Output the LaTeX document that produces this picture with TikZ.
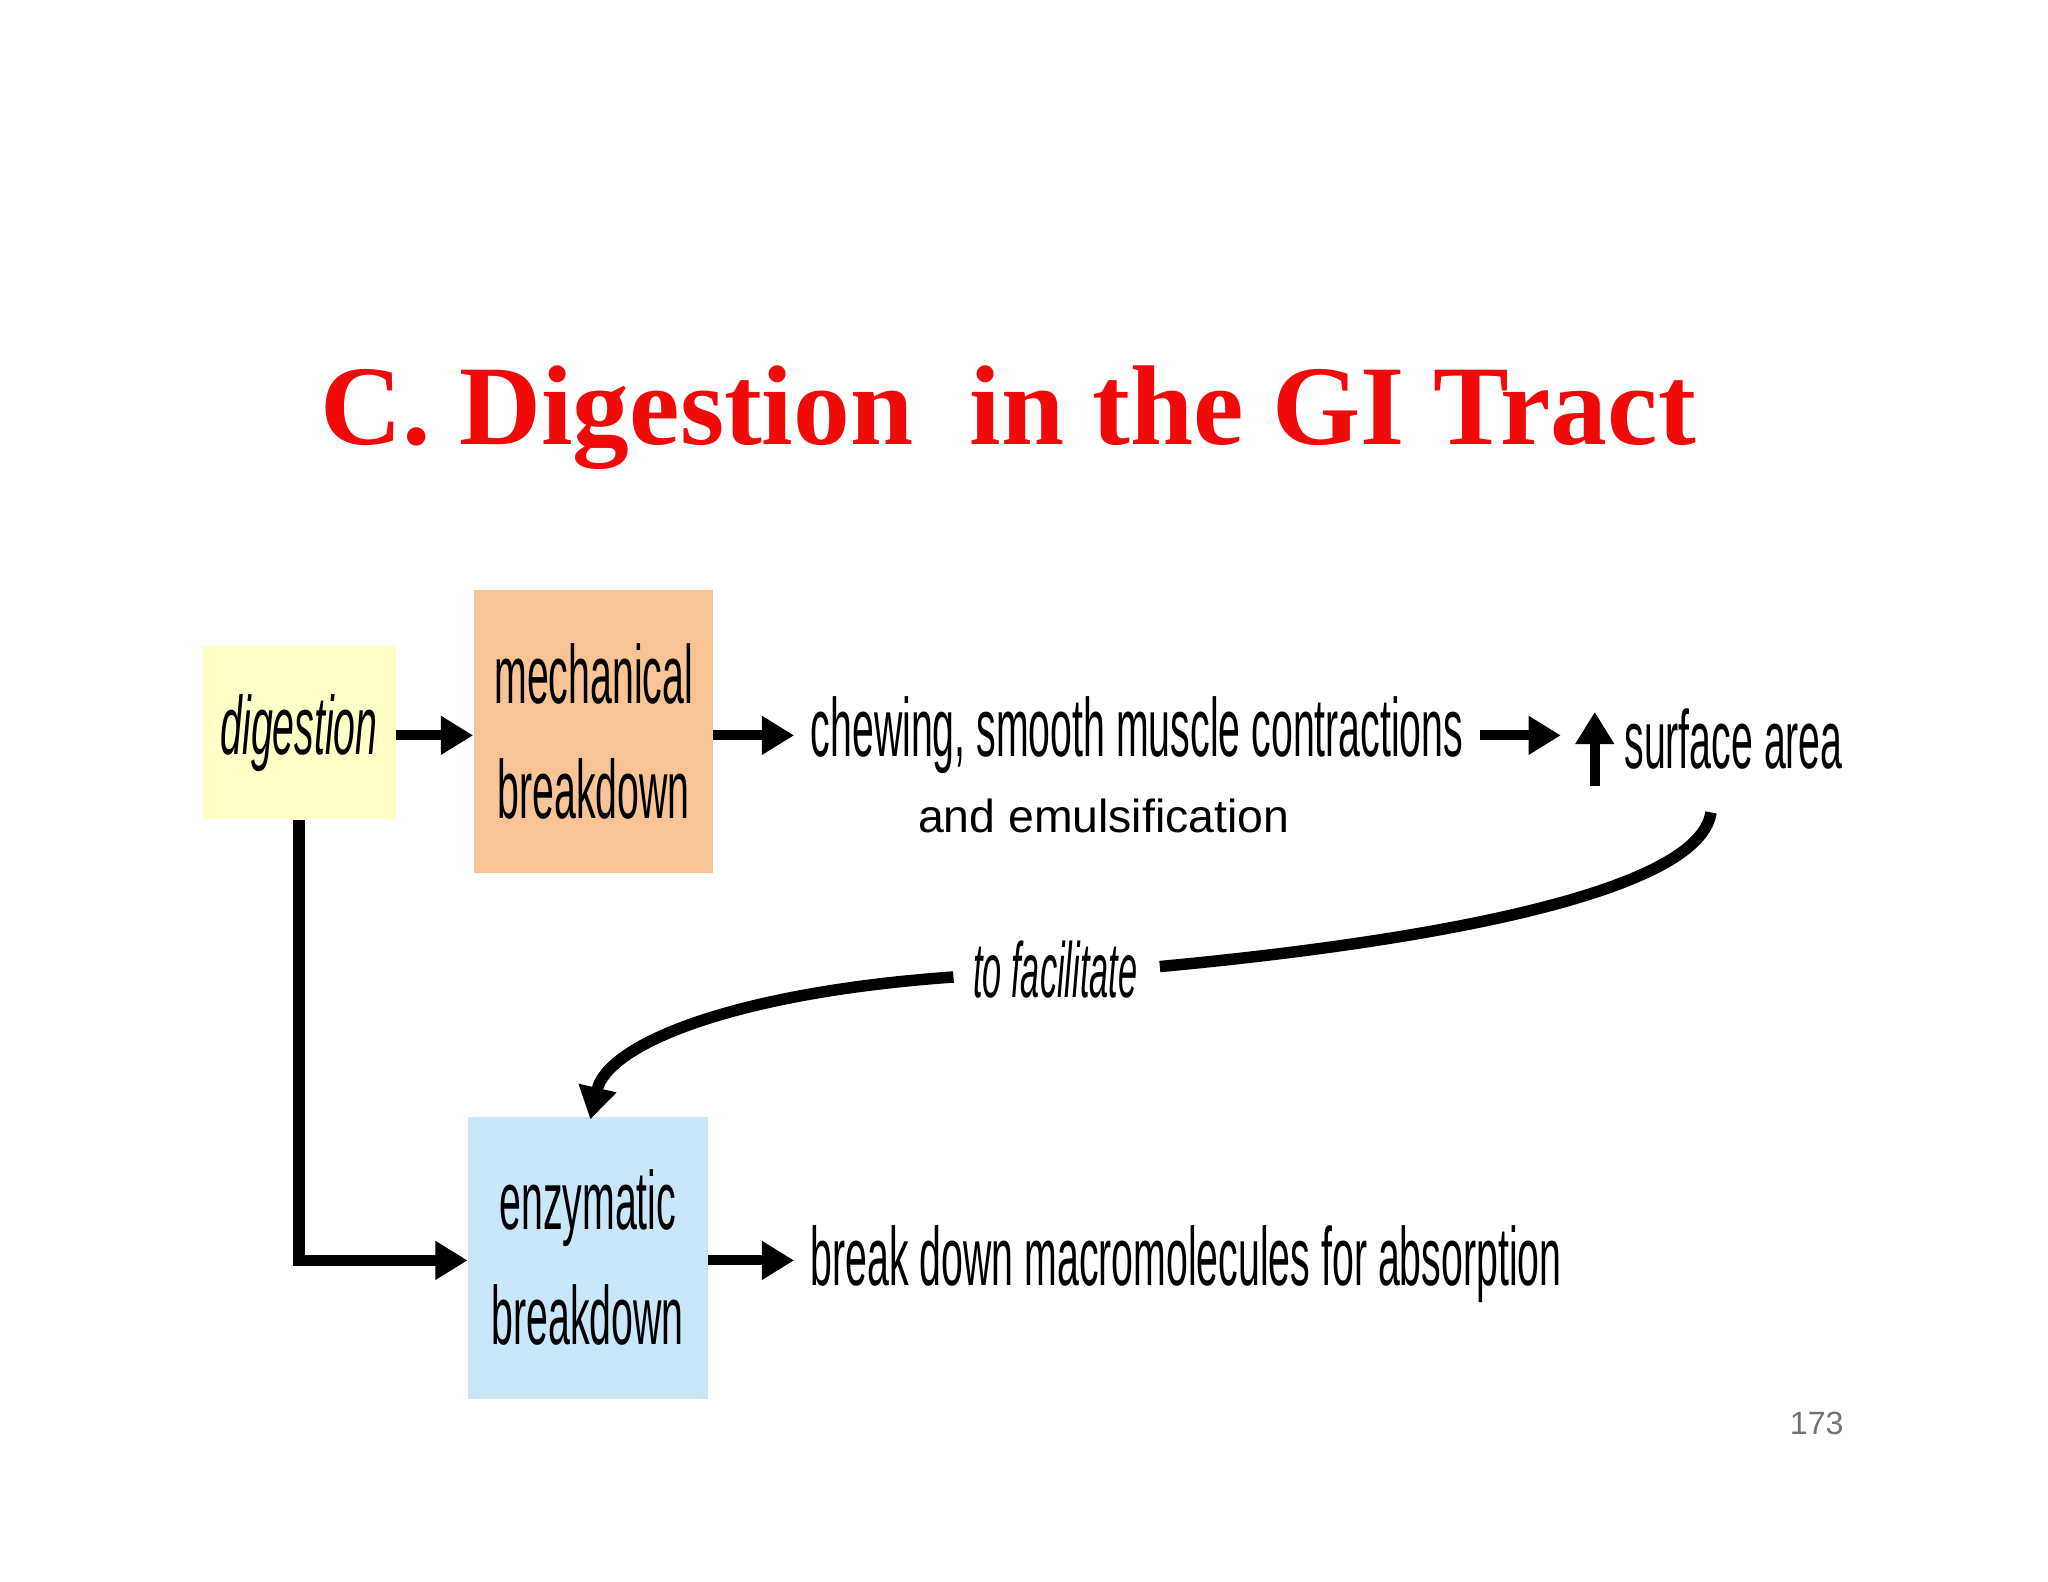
\documentclass[tikz,border=0pt]{standalone}
\usepackage{fontspec}
\setmainfont{Liberation Serif}
\newfontfamily\narrow[FakeStretch=0.475]{Liberation Sans}
\newfontfamily\facfont[FakeStretch=0.44]{Liberation Sans}
\newfontfamily\arial{Liberation Sans}
\usetikzlibrary{arrows.meta}
\definecolor{titlered}{RGB}{240,10,10}
\definecolor{yel}{RGB}{255,255,200}
\definecolor{ora}{RGB}{248,196,150}
\definecolor{blu}{RGB}{200,232,250}
\tikzset{
  box/.style={draw=none,inner sep=0pt,align=center,font=\narrow\fontsize{18}{25}\selectfont},
  lbl/.style={inner sep=0pt,anchor=west,font=\narrow\fontsize{18}{22}\selectfont},
  arr/.style={line width=2.2pt,-{Triangle[length=7pt,width=8pt]}},
}
\begin{document}
\begin{tikzpicture}[x=0.01cm,y=-0.01cm]
\useasboundingbox (0,0) rectangle (1568,1211);
\node[font=\bfseries\fontsize{24.7}{28}\selectfont,text=titlered] (title) at (772,320) {C. Digestion\ \ in the GI Tract};
\node[box,fill=yel,minimum width=1.48cm,minimum height=1.32cm,font=\narrow\itshape\fontsize{18}{22}\selectfont] (dig) at (229,561) {digestion};
\node[box,fill=ora,minimum width=1.83cm,minimum height=2.16cm] (mech) at (454.5,560) {mechanical\\breakdown};
\node[box,fill=blu,minimum width=1.84cm,minimum height=2.16cm] (enz) at (450,963) {enzymatic\\breakdown};
\node[lbl] (chew) at (620,563) {chewing, smooth muscle contractions};
\node[lbl] (surf) at (1243,566) {surface area};
\coordinate (upb) at (1221,602);
\coordinate (upt) at (1221,545);
\node[inner sep=0pt,font=\arial\fontsize{10.1}{12}\selectfont] (emul) at (845,625) {and emulsification};
\node[lbl,anchor=center,font=\facfont\itshape\fontsize{17}{20}\selectfont] (fac) at (808,742) {to facilitate};
\node[lbl] (brk) at (620,968) {break down macromolecules for absorption};
\node[inner sep=0pt,text=black!55,font=\arial\fontsize{7}{8}\selectfont] (pg) at (1391,1090) {173};
\coordinate (a1s) at (303,563);
\coordinate (a2s) at (546,563);
\coordinate (a2e) at (608,563);
\coordinate (a3s) at (1133,563);
\coordinate (a3e) at (1195,563);
\coordinate (cs) at (1310,622);
\coordinate (ce) at (888,740);
\coordinate (c2s) at (730,748);
\coordinate (ct) at (452,857);
\coordinate (corner) at (229,965);
\coordinate (e1) at (358,965);
\coordinate (e2s) at (542,965);
\coordinate (e2e) at (608,965);
\draw[arr] (a1s) -- (mech.west |- a1s);
\draw[arr] (a2s) -- (a2e);
\draw[arr] (a3s) -- (a3e);
\draw[arr] (upb) -- (upt);
\draw[line width=2.5pt] (cs) .. controls (1300,690) and (1050,725) .. (ce);
\draw[arr,line width=2.5pt] (c2s) .. controls (560,760) and (465,800) .. (ct);
\draw[arr,line width=2.5pt] (dig.south) -- (corner) -- (e1);
\draw[arr] (e2s) -- (e2e);
\end{tikzpicture}
\end{document}
